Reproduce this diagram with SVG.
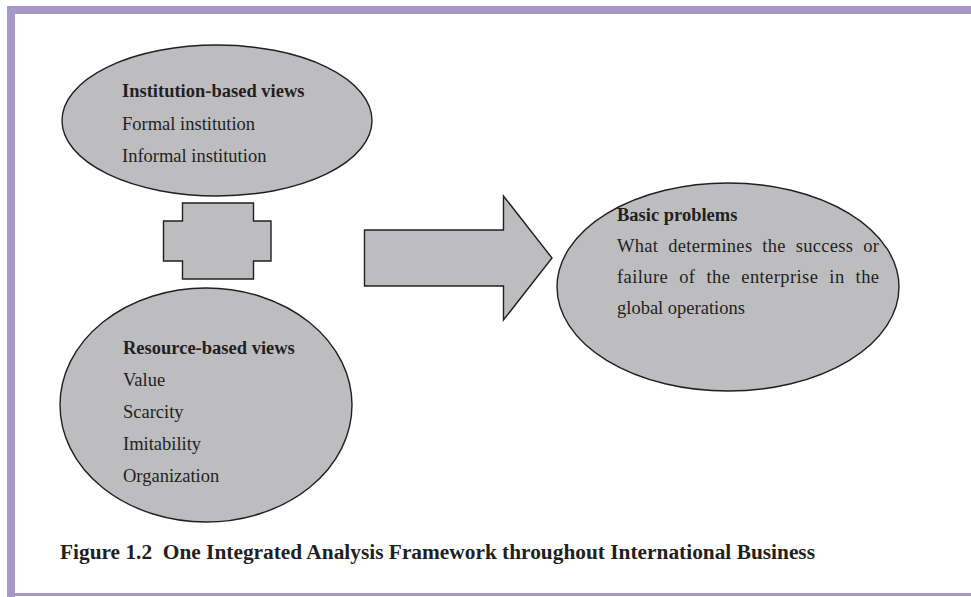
<svg xmlns="http://www.w3.org/2000/svg" width="971" height="597" viewBox="0 0 971 597">
  <style>
    .shape { fill: #bdbdc0; stroke: #231f20; stroke-width: 1.4; }
    .frame { fill: #a898c8; }
    text { font-family: "Liberation Serif", "Times New Roman", serif; font-size: 18.5px; fill: #231f20; }
    .head { font-weight: bold; }
    .caption { font-weight: bold; font-size: 20px; }
  </style>
  <rect width="971" height="597" fill="#ffffff"/>

  <!-- page frame -->
  <g id="frame">
    <rect class="frame" x="7" y="6" width="964" height="8"/>
    <rect class="frame" x="7" y="6" width="8" height="591"/>
    <rect class="frame" x="7" y="593" width="964" height="3"/>
  </g>

  <g id="institution">
    <ellipse class="shape" cx="217" cy="120.5" rx="155" ry="75.5"/>
    <text class="head" x="122" y="97">Institution-based views</text>
    <text x="122" y="130">Formal institution</text>
    <text x="122" y="162">Informal institution</text>
  </g>

  <g id="resource">
    <ellipse class="shape" cx="206" cy="405" rx="146" ry="117"/>
    <text class="head" x="123" y="354">Resource-based views</text>
    <text x="123" y="386">Value</text>
    <text x="123" y="418">Scarcity</text>
    <text x="123" y="450">Imitability</text>
    <text x="123" y="482">Organization</text>
  </g>

  <g id="problems">
    <ellipse class="shape" cx="728" cy="287" rx="171" ry="104"/>
    <text class="head" x="617" y="221">Basic problems</text>
    <!-- justified lines: extra word spacing, trimmed to the column width -->
    <text x="617" y="252" word-spacing="5" textLength="262" lengthAdjust="spacing">What determines the success or</text>
    <text x="617" y="283" word-spacing="6" textLength="262" lengthAdjust="spacing">failure of the enterprise in the</text>
    <text x="617" y="314">global operations</text>
  </g>

  <!-- connectors -->
  <g id="connectors">
    <path class="shape" d="M182.5,203 H253.5 V221 H271 V261 H253.5 V279 H182.5 V261 H163.5 V221 H182.5 Z"/>
    <path class="shape" d="M364.5,230 H503.5 V196 L552,258 L503.5,320 V286 H364.5 Z"/>
  </g>

  <text class="caption" x="60" y="559" textLength="755" lengthAdjust="spacingAndGlyphs">Figure 1.2&#160; One Integrated Analysis Framework throughout International Business</text>
</svg>
